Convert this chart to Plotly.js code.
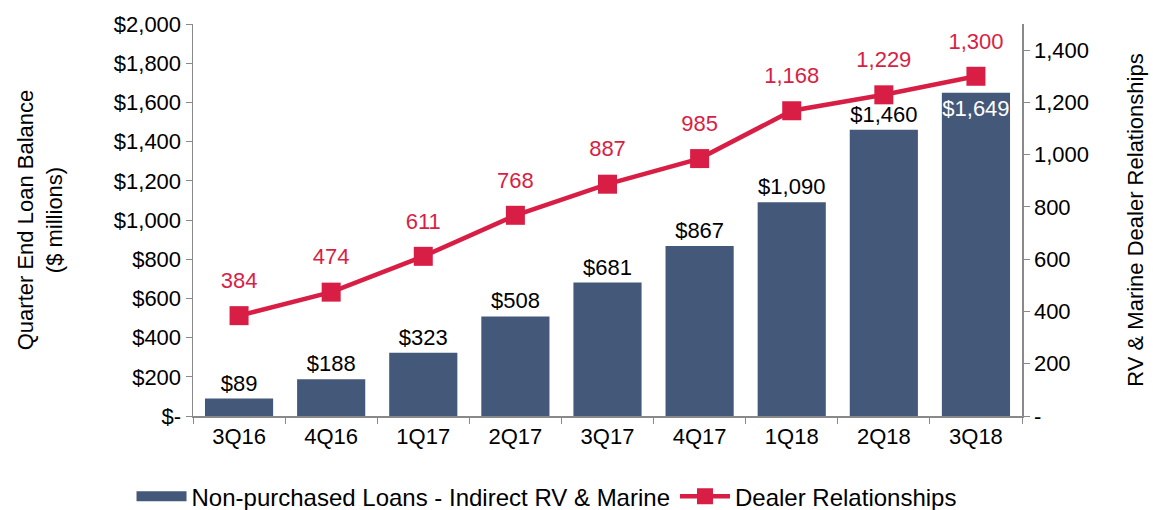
<!DOCTYPE html>
<html><head><meta charset="utf-8">
<script src="https://cdn.plot.ly/plotly-3.0.1.min.js"></script>
<style>html,body{margin:0;padding:0;background:#fff}#chart{width:1153px;height:510px}</style>
</head><body><div id="chart"></div>
<script>
const quarters = ["3Q16","4Q16","1Q17","2Q17","3Q17","4Q17","1Q18","2Q18","3Q18"];
const loanBalance = [89,188,323,508,681,867,1090,1460,1649];
const dealers = [384,474,611,768,887,985,1168,1229,1300];
const leftTickVals = [0,200,400,600,800,1000,1200,1400,1600,1800,2000];
const leftTickText = ["$-","$200","$400","$600","$800","$1,000","$1,200","$1,400","$1,600","$1,800","$2,000"];
const rightTickVals = [0,200,400,600,800,1000,1200,1400];
const rightTickText = ["-","200","400","600","800","1,000","1,200","1,400"];
const barName = "Non-purchased Loans - Indirect RV & Marine";
const lineName = "Dealer Relationships";

const barColor = "#44587a";
const red = "#d91e45";
const font = "Liberation Sans, Arial, sans-serif";
const fs = 22;

const n = quarters.length;
const barTextPos = loanBalance.map((v,i)=> i===n-1 ? "inside" : "outside");
const barTextColor = loanBalance.map((v,i)=> i===n-1 ? "#ffffff" : "#000000");

const traces = [
  {
    type: "bar", name: barName, showlegend: false,
    x: quarters, y: loanBalance,
    marker: {color: barColor},
    width: 0.74,
    text: loanBalance.map(v => "$" + v.toLocaleString("en-US")),
    textposition: barTextPos,
    textangle: 0,
    insidetextanchor: "end",
    constraintext: "none",
    textfont: {family: font, size: fs, color: barTextColor},
    cliponaxis: false,
    hoverinfo: "skip"
  },
  {
    // legend swatch for the bar series (no data drawn)
    type: "scatter", mode: "lines", name: barName, legendrank: 1,
    x: [null], y: [null],
    line: {color: barColor, width: 12},
    hoverinfo: "skip"
  },
  {
    type: "scatter", mode: "lines+markers", name: lineName, legendrank: 2,
    x: quarters, y: dealers, yaxis: "y2",
    line: {color: red, width: 4.5},
    marker: {color: red, symbol: "square", size: 19},
    cliponaxis: false,
    hoverinfo: "skip"
  },
  {
    type: "scatter", mode: "markers+text", name: "labels", showlegend: false,
    x: quarters, y: dealers, yaxis: "y2",
    marker: {color: "rgba(0,0,0,0)", size: 34},
    text: dealers.map(v => v.toLocaleString("en-US")),
    textposition: "top center",
    textfont: {family: font, size: fs, color: red},
    cliponaxis: false,
    hoverinfo: "skip"
  }
];

const layout = {
  width: 1153, height: 510,
  margin: {l: 193, r: 131, t: 24, b: 94, autoexpand: false},
  paper_bgcolor: "#fff", plot_bgcolor: "#fff",
  font: {family: font, size: fs, color: "#000"},
  showlegend: true,
  legend: {orientation: "h", xref: "container", yref: "container",
           x: 0.474, xanchor: "center", y: 0.026, yanchor: "middle",
           font: {family: font, size: 24, color: "#000"}, itemwidth: 50, traceorder: "normal"},
  xaxis: {
    type: "category", range: [-0.5, n - 0.5], showgrid: false, zeroline: false,
    showline: true, linecolor: "#898989", linewidth: 1.5,
    ticks: "outside", ticklen: 6, tickcolor: "#898989", tickson: "boundaries",
    tickfont: {family: font, size: fs, color: "#000"}
  },
  yaxis: {
    range: [0, 2000], tickvals: leftTickVals, ticktext: leftTickText,
    showgrid: false, zeroline: false, showline: true, linecolor: "#898989", linewidth: 1.5,
    ticks: "outside", ticklen: 6, tickcolor: "#898989",
    tickfont: {family: font, size: fs, color: "#000"},
    automargin: false,
    title: {text: "Quarter End Loan Balance<br>($ millions)", font: {family: font, size: fs, color: "#000"}, standoff: 45}
  },
  yaxis2: {
    range: [0, 1500], overlaying: "y", side: "right",
    tickvals: rightTickVals, ticktext: rightTickText,
    showgrid: false, zeroline: false, showline: true, linecolor: "#898989", linewidth: 1.5,
    ticks: "outside", ticklen: 6, tickcolor: "#898989",
    tickfont: {family: font, size: fs, color: "#000"},
    automargin: false,
    title: {text: "RV & Marine Dealer Relationships", font: {family: font, size: fs, color: "#000"}, standoff: 39}
  }
};

Plotly.newPlot("chart", traces, layout, {displayModeBar: false, staticPlot: true});
</script></body></html>
